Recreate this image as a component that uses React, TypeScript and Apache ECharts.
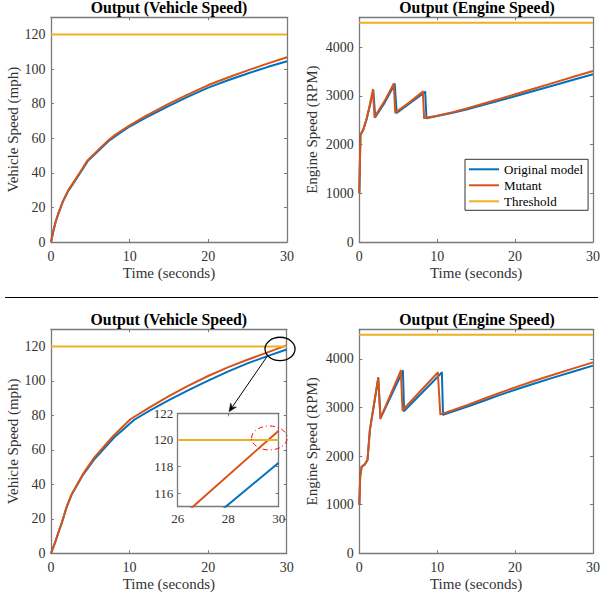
import React, { useEffect, useRef } from 'react';
import * as echarts from 'echarts';

const FONT = 'Liberation Serif';
const BLUE = '#0072BD';
const ORANGE = '#D95319';
const YELLOW = '#EDB120';

const seriesNames = ['Original model', 'Mutant', 'Threshold'];
const titles = ['Output (Vehicle Speed)', 'Output (Engine Speed)', 'Output (Vehicle Speed)', 'Output (Engine Speed)'];
const xAxisName = 'Time (seconds)';
const yAxisNames = ['Vehicle Speed (mph)', 'Engine Speed (RPM)', 'Vehicle Speed (mph)', 'Engine Speed (RPM)'];

const timeTicks = [0, 10, 20, 30];
const speedTicks = [0, 20, 40, 60, 80, 100, 120];
const rpmTicks = [0, 1000, 2000, 3000, 4000];
const insetTimeTicks = [26, 28, 30];
const insetSpeedTicks = [116, 118, 120, 122];

const speedThreshold = 120;
const rpmThreshold = 4500;

// Run 1 – vehicle speed (mph)
const speed1Original: number[][] = [
  [0, 0], [0.3, 6.3], [0.6, 11.7], [1, 17.2], [1.5, 23.2], [2.2, 29.6], [3, 35], [4, 42], [4.7, 47],
  [5.5, 50.5], [6.3, 54], [7.3, 58.3], [8.5, 62.2], [10, 66.8], [12, 71.8], [15, 78.8], [17.5, 84.2],
  [20, 89.3], [22.5, 93.6], [25, 97.5], [27.5, 101.2], [30, 104.6],
];
const speed1Mutant: number[][] = [
  [0, 0], [0.3, 6.5], [0.6, 12], [1, 17.5], [1.5, 23.5], [2.2, 30], [3, 35.5], [4, 42.5], [4.6, 47],
  [5.5, 51], [6.3, 54.5], [7.2, 58.5], [8.2, 62.2], [10, 67.5], [12, 72.8], [15, 80], [17.5, 85.6],
  [20, 90.8], [22.5, 95.2], [25, 99.3], [27.5, 103.2], [30, 106.9],
];

// Run 1 – engine speed (RPM)
const rpm1Original: number[][] = [
  [0, 1000], [0.15, 2200], [0.5, 2300], [0.9, 2500], [1.3, 2760], [1.8, 3110], [2.05, 2560], [3.3, 2870],
  [4.55, 3240], [4.8, 2650], [6.5, 2850], [8.46, 3080], [8.62, 2540], [10, 2583], [12, 2652], [14, 2730],
  [16, 2815], [18, 2902], [20, 2990], [22.5, 3103], [25, 3215], [27.5, 3328], [30, 3440],
];
const rpm1Mutant: number[][] = [
  [0, 1000], [0.15, 2200], [0.5, 2300], [0.9, 2505], [1.3, 2775], [1.75, 3125], [1.95, 2565], [3.2, 2880],
  [4.42, 3245], [4.62, 2655], [6.4, 2860], [8.16, 3085], [8.32, 2542], [10, 2590], [12, 2665], [14, 2750],
  [16, 2840], [18, 2935], [20, 3030], [22.5, 3150], [25, 3270], [27.5, 3390], [30, 3508],
];

// Run 2 – vehicle speed (mph)
const speed2Original: number[][] = [
  [0, 0], [0.5, 6], [1.05, 13.5], [1.4, 18], [2, 27], [2.6, 33.8], [4, 45], [5.6, 55], [8, 67],
  [10.6, 77.5], [12.5, 82.7], [15, 88.9], [17.5, 94.7], [20, 100.2], [22.5, 105.4], [25, 110.2], [27.9, 115],
  [30, 118.3],
];
const speed2Mutant: number[][] = [
  [0, 0], [0.5, 6], [1.05, 13.5], [1.4, 18], [2, 27], [2.6, 34], [4, 45.5], [5.5, 55.5], [7.8, 67.5],
  [10.1, 77.8], [12.5, 84.6], [15, 91.2], [17.5, 97.3], [20, 102.9], [22.5, 107.9], [25, 112.3], [26.6, 115],
  [30, 120.7],
];

// Run 2 – engine speed (RPM)
const rpm2Original: number[][] = [
  [0, 1000], [0.12, 1600], [0.3, 1780], [0.7, 1830], [1.05, 1920], [1.36, 2540], [2.43, 3605], [2.72, 2780],
  [5.6, 3755], [5.75, 2930], [10.6, 3720], [10.75, 2850], [12, 2915], [14, 3025], [16, 3140], [18, 3255],
  [20, 3365], [22.5, 3495], [25, 3620], [27.5, 3742], [30, 3863],
];
const rpm2Mutant: number[][] = [
  [0, 1000], [0.12, 1600], [0.3, 1780], [0.7, 1830], [1.05, 1920], [1.36, 2540], [2.43, 3610], [2.72, 2780],
  [5.33, 3760], [5.55, 2945], [10.08, 3722], [10.4, 2860], [12, 2945], [14, 3060], [16, 3180], [18, 3300],
  [20, 3415], [22.5, 3550], [25, 3680], [27.5, 3805], [30, 3930],
];

// Annotation anchors (data units)
const zoomEllipse = { t: 29.15, v: 118.6 };
const arrowFrom = { t: 27.5, v: 114.2 };
const arrowTo = { t: 22.66, v: 82.2 };
const crossing = { t: 29.63, v: 120.15 };

const AXIS_COLOR = '#7a7a7a';
const LABEL_COLOR = '#333';

type GridSpec = { left: number; top: number; width: number; height: number };
const grids: GridSpec[] = [
  { left: 51, top: 17.3, width: 236, height: 224.7 },
  { left: 359.3, top: 17.3, width: 235.4, height: 224.7 },
  { left: 51, top: 329.3, width: 235.7, height: 224 },
  { left: 359.3, top: 329.3, width: 235.4, height: 224 },
  { left: 177.7, top: 413.3, width: 101, height: 93.4 },
];

function App() {
  const ref = useRef<HTMLDivElement>(null);

  useEffect(() => {
    if (!ref.current) return;
    const chart = echarts.init(ref.current, undefined, { renderer: 'svg' });

    const xMain = { min: timeTicks[0], max: timeTicks[timeTicks.length - 1], interval: timeTicks[1] - timeTicks[0] };
    const xInset = { min: insetTimeTicks[0], max: insetTimeTicks[insetTimeTicks.length - 1], interval: 2 };
    const ySpeed = { min: 0, max: 130, interval: speedTicks[1] - speedTicks[0] };
    const yRpm = { min: 0, max: 4610, interval: rpmTicks[1] - rpmTicks[0] };
    const yInset = { min: 115, max: insetSpeedTicks[insetSpeedTicks.length - 1], splitNumber: 3 };

    const xScales = [xMain, xMain, xMain, xMain, xInset];
    const yScales: any[] = [ySpeed, yRpm, ySpeed, yRpm, yInset];
    const yLabelSets = [speedTicks, rpmTicks, speedTicks, rpmTicks, insetSpeedTicks];
    const xLabelSets = [timeTicks, timeTicks, timeTicks, timeTicks, insetTimeTicks];

    const xAxis: any[] = [];
    const yAxis: any[] = [];
    grids.forEach((g, i) => {
      const inset = i === 4;
      const fs = inset ? 13 : 14;
      const common = {
        type: 'value',
        gridIndex: i,
        axisLine: { show: true, onZero: false, lineStyle: { color: AXIS_COLOR, width: 1.3 } },
        axisTick: { show: true, inside: true, length: 3, lineStyle: { color: AXIS_COLOR, width: 1 } },
        splitLine: { show: false },
      };
      const xs = xLabelSets[i];
      const ys = yLabelSets[i];
      xAxis.push({
        ...common,
        ...xScales[i],
        position: 'bottom',
        name: inset ? '' : xAxisName,
        nameLocation: 'middle',
        nameGap: 23,
        nameTextStyle: { fontFamily: FONT, fontSize: 15, color: LABEL_COLOR },
        axisLabel: {
          show: true,
          margin: inset ? 5.5 : 7,
          fontFamily: FONT,
          fontSize: fs,
          color: LABEL_COLOR,
          formatter: (v: number) => (xs.includes(v) ? String(v) : ''),
        },
      });
      xAxis.push({
        ...common,
        ...xScales[i],
        position: 'top',
        axisLabel: { show: false },
      });
      yAxis.push({
        ...common,
        ...yScales[i],
        position: 'left',
        name: inset ? '' : yAxisNames[i],
        nameLocation: 'middle',
        nameGap: i === 1 || i === 3 ? 40 : 30,
        nameTextStyle: { fontFamily: FONT, fontSize: 15, color: LABEL_COLOR },
        axisLabel: {
          show: true,
          margin: inset ? 4.5 : 5.5,
          fontFamily: FONT,
          fontSize: fs,
          color: LABEL_COLOR,
          formatter: (v: number) => (ys.includes(v) ? String(v) : ''),
        },
      });
      yAxis.push({
        ...common,
        ...yScales[i],
        position: 'right',
        axisLabel: { show: false },
      });
    });

    const dataSets = [
      [speed1Original, speed1Mutant, speedThreshold],
      [rpm1Original, rpm1Mutant, rpmThreshold],
      [speed2Original, speed2Mutant, speedThreshold],
      [rpm2Original, rpm2Mutant, rpmThreshold],
      [speed2Original, speed2Mutant, speedThreshold],
    ] as const;
    const colors = [BLUE, ORANGE, YELLOW];

    const series: any[] = [];
    dataSets.forEach((set, gi) => {
      const xr = xScales[gi];
      set.forEach((d: any, k) => {
        const data = k === 2 ? [[xr.min, d], [xr.max, d]] : d;
        series.push({
          type: 'line',
          name: seriesNames[k],
          xAxisIndex: gi * 2,
          yAxisIndex: gi * 2,
          data,
          showSymbol: false,
          symbol: 'none',
          clip: true,
          color: colors[k],
          lineStyle: { color: colors[k], width: 2, join: 'round' },
          z: 2 + k,
        });
      });
    });

    const titleCfg = titles.map((t, i) => ({
      text: t,
      left: grids[i].left + grids[i].width / 2,
      top: i < 2 ? -1 : 311,
      textAlign: 'center',
      padding: 0,
      textStyle: { fontFamily: FONT, fontSize: 15.8, fontWeight: 'bold', color: '#000' },
    }));

    chart.setOption({
      animation: false,
      backgroundColor: '#fff',
      textStyle: { fontFamily: FONT },
      title: titleCfg,
      grid: grids.map((g) => ({ ...g, containLabel: false })),
      xAxis,
      yAxis,
      legend: {
        data: seriesNames,
        orient: 'vertical',
        left: 465,
        top: 159.3,
        padding: [2, 5, 1, 4],
        itemGap: 0,
        itemWidth: 30,
        itemHeight: 2,
        icon: 'rect',
        borderColor: '#333',
        borderWidth: 1,
        backgroundColor: '#fff',
        textStyle: { fontFamily: FONT, fontSize: 13, color: '#000', lineHeight: 16 },
      },
      series,
    });

    const pe = chart.convertToPixel({ gridIndex: 2 }, [zoomEllipse.t, zoomEllipse.v]) as number[];
    const pa = chart.convertToPixel({ gridIndex: 2 }, [arrowFrom.t, arrowFrom.v]) as number[];
    const pb = chart.convertToPixel({ gridIndex: 2 }, [arrowTo.t, arrowTo.v]) as number[];
    const pc = chart.convertToPixel({ gridIndex: 4 }, [crossing.t, crossing.v]) as number[];
    const dx = pb[0] - pa[0];
    const dy = pb[1] - pa[1];
    const len = Math.hypot(dx, dy);
    const ux = dx / len;
    const uy = dy / len;
    const head = 8;
    const half = 3.5;
    const base = [pb[0] - ux * head, pb[1] - uy * head];

    chart.setOption({
      graphic: [
        {
          type: 'line',
          shape: { x1: 5, y1: 297.5, x2: 598, y2: 297.5 },
          style: { stroke: '#000', lineWidth: 1 },
          z: 100,
        },
        {
          type: 'ellipse',
          shape: { cx: pe[0], cy: pe[1], rx: 15, ry: 11.7 },
          style: { fill: 'none', stroke: '#000', lineWidth: 1.3 },
          z: 100,
        },
        {
          type: 'line',
          shape: { x1: pa[0], y1: pa[1], x2: base[0] + ux * 2, y2: base[1] + uy * 2 },
          style: { stroke: '#000', lineWidth: 1 },
          z: 100,
        },
        {
          type: 'polygon',
          shape: {
            points: [
              [pb[0], pb[1]],
              [base[0] - uy * half, base[1] + ux * half],
              [base[0] + ux * 2.5, base[1] + uy * 2.5],
              [base[0] + uy * half, base[1] - ux * half],
            ],
          },
          style: { fill: '#000', stroke: '#000', lineWidth: 0.5 },
          z: 100,
        },
        {
          type: 'ellipse',
          shape: { cx: pc[0], cy: pc[1], rx: 17.8, ry: 12 },
          style: { fill: 'none', stroke: '#FF0000', lineWidth: 1, lineDash: [5, 3, 1, 3] },
          z: 100,
        },
      ],
    });

    return () => chart.dispose();
  }, []);

  return (
    <div
      ref={ref}
      style={{ position: 'fixed', left: 0, top: 0, width: 603, height: 600, background: '#fff' }}
    />
  );
}

export default App;
